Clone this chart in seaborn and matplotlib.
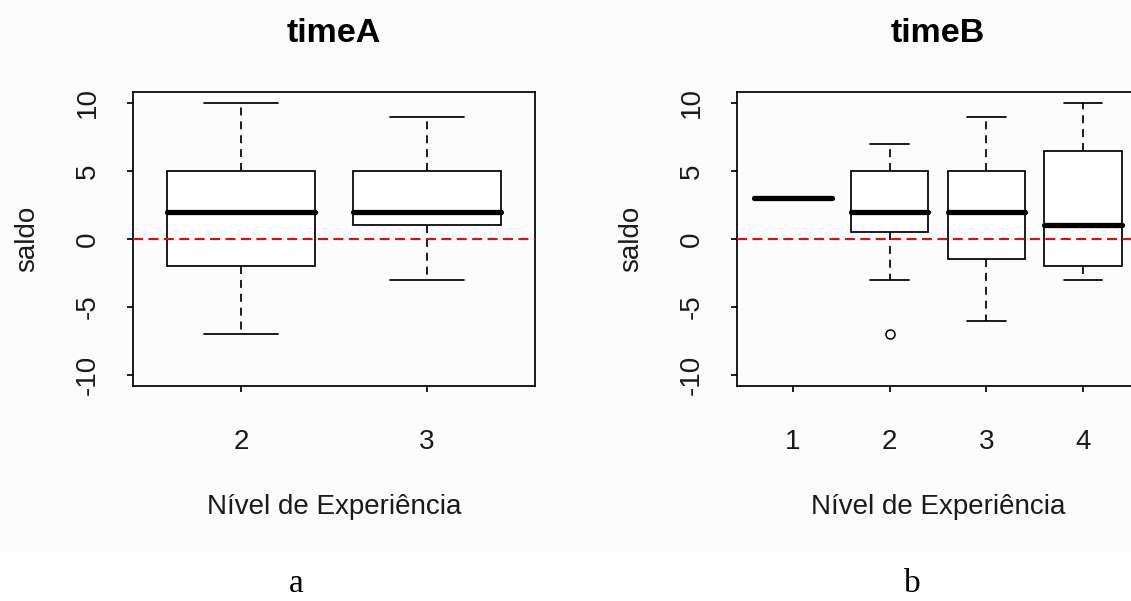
import matplotlib
matplotlib.use("Agg")
import matplotlib.pyplot as plt
from matplotlib.patches import Rectangle
import pandas as pd
import seaborn as sns

# timeA: five-number summary of "saldo" per experience level
niveis_a = ["2", "3"]
a_min = [-7, -3]
a_q1 = [-2, 1]
a_med = [2, 2]
a_q3 = [5, 5]
a_max = [10, 9]

# timeB: five-number summary of "saldo" per experience level
niveis_b = ["1", "2", "3", "4"]
b_min = [3, -3, -6, -3]
b_q1 = [3, 0.5, -1.5, -2]
b_med = [3, 2, 2, 1]
b_q3 = [3, 5, 5, 6.5]
b_max = [3, 7, 9, 10]

# timeB outliers
b_out_nivel = ["2"]
b_out_saldo = [-7]

y_ticks = [-10, -5, 0, 5, 10]

sns.set_style("white")
plt.rcParams["font.family"] = ["Liberation Sans", "DejaVu Sans"]

W, H = 1131, 601
fig = plt.figure(figsize=(W / 100, H / 100), dpi=100)
fig.patches.append(Rectangle((0, 1 - 552 / H), 1, 552 / H, transform=fig.transFigure,
                             facecolor="#fcfcfc", edgecolor="none", zorder=-10))

LW = 1.25
TXT = "#1a1a1a"


def long_frame(niveis, mins, q1s, meds, q3s, maxs):
    rows = []
    for n, lo, q1, md, q3, hi in zip(niveis, mins, q1s, meds, q3s, maxs):
        for v in (lo, q1, md, q3, hi):
            rows.append({"nivel": n, "saldo": v})
    return pd.DataFrame(rows)


def painel(ax, niveis, mins, q1s, meds, q3s, maxs, titulo, out_n=None, out_s=None):
    df = long_frame(niveis, mins, q1s, meds, q3s, maxs)
    sns.boxplot(
        data=df, x="nivel", y="saldo", order=niveis, ax=ax,
        color="white", linecolor="black", linewidth=LW, width=0.8,
        saturation=1, whis=1.5, fliersize=0,
        medianprops=dict(linewidth=3.8, solid_capstyle="round", color="black"),
        whiskerprops=dict(linestyle=(0, (4.6, 3.4))),
    )
    if out_n:
        sns.stripplot(x=out_n, y=out_s, order=niveis, ax=ax, jitter=False,
                      color="white", edgecolor="black", linewidth=1.1, size=6.5,
                      marker="o", zorder=5)
    ax.axhline(0, color="red", lw=1.5, linestyle=(0, (4.8, 2.6)), zorder=6)

    ax.set_xlim(-0.58, len(niveis) - 1 + 0.58)
    ax.set_ylim(-10.8, 10.8)
    ax.set_yticks(y_ticks)
    ax.set_yticklabels([str(v) for v in y_ticks])
    ax.set_facecolor("none")
    for s in ax.spines.values():
        s.set_visible(True)
        s.set_color("black")
        s.set_linewidth(LW)
    ax.tick_params(axis="both", direction="out", length=4.1, width=LW,
                   color="black", labelcolor=TXT, labelsize=20)
    ax.tick_params(axis="x", pad=27, bottom=True)
    ax.tick_params(axis="y", pad=19, left=True, labelrotation=90)
    for lab in ax.get_yticklabels():
        lab.set_va("center")
    ax.set_title(titulo, fontsize=24.5, fontweight="bold", pad=36, color="black")
    ax.set_xlabel("Nível de Experiência", fontsize=20, color=TXT)
    ax.set_ylabel("saldo", fontsize=20, color=TXT)
    ax.xaxis.set_label_coords(0.5, -0.367)
    ax.yaxis.set_label_coords(-0.232, 0.5)


ax_a = fig.add_axes([133 / W, 1 - 386 / H, 402 / W, 294 / H])
ax_b = fig.add_axes([737 / W, 1 - 386 / H, 402 / W, 294 / H])

painel(ax_a, niveis_a, a_min, a_q1, a_med, a_q3, a_max, "timeA")
painel(ax_b, niveis_b, b_min, b_q1, b_med, b_q3, b_max, "timeB", b_out_nivel, b_out_saldo)

fig.text(296 / W, 1 - 592 / H, "a", family=["Liberation Serif", "DejaVu Serif"],
         fontsize=24, ha="center", va="baseline", color="black")
fig.text(912 / W, 1 - 592 / H, "b", family=["Liberation Serif", "DejaVu Serif"],
         fontsize=24, ha="center", va="baseline", color="black")

fig.savefig("out.png", dpi=100)
